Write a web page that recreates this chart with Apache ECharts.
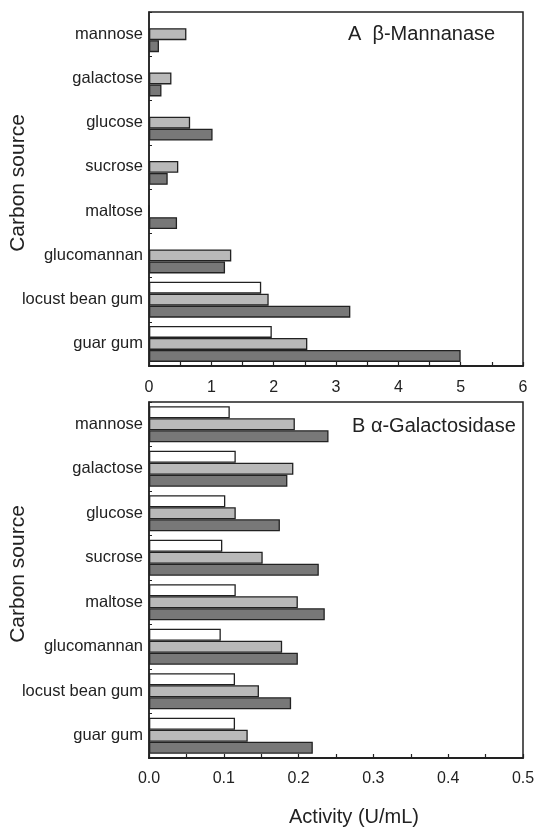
<!DOCTYPE html>
<html>
<head>
<meta charset="utf-8">
<script src="https://cdn.jsdelivr.net/npm/echarts@6/dist/echarts.min.js"></script>
<style>
html,body{margin:0;padding:0;background:#fff;}
#chart{width:537px;height:827px;}
</style>
</head>
<body>
<div id="chart"></div>
<script>
var categories = ['mannose','galactose','glucose','sucrose','maltose','glucomannan','locust bean gum','guar gum'];
// Panel A: beta-Mannanase (U/mL)
var mannWhite = [null, null, null, null, null, null, 1.80, 1.97];
var mannLight = [0.60, 0.36, 0.66, 0.47, 0, 1.32, 1.92, 2.54];
var mannDark  = [0.16, 0.20, 1.02, 0.30, 0.45, 1.22, 3.23, 5.00];
// Panel B: alpha-Galactosidase (U/mL)
var galWhite = [0.108, 0.116, 0.102, 0.098, 0.116, 0.096, 0.115, 0.115];
var galLight = [0.195, 0.193, 0.116, 0.152, 0.199, 0.178, 0.147, 0.132];
var galDark  = [0.240, 0.185, 0.175, 0.227, 0.235, 0.199, 0.190, 0.219];

var titleA = 'A  β-Mannanase';
var titleB = 'B α-Galactosidase';
var yName = 'Carbon source';
var xName = 'Activity (U/mL)';

var FONT = '"Liberation Sans", Arial, sans-serif';
var INK = '#222';
var colors = ['#ffffff', '#b9b9b9', '#787878'];

function yAxisCfg(gi) {
  return {
    type: 'category', gridIndex: gi, data: categories, inverse: true,
    name: yName, nameLocation: 'middle', nameGap: 120, nameRotate: 90, nameMoveOverlap: false,
    nameTextStyle: {fontFamily: FONT, fontSize: 21, color: INK, padding: [0, 0, 0, 12]},
    axisLine: {show: true, lineStyle: {color: INK, width: 1.5}},
    axisTick: {show: true, inside: true, length: 3, lineStyle: {color: INK}},
    axisLabel: {fontFamily: FONT, fontSize: 16.5, color: INK, margin: 6}
  };
}
function xAxisCfg(gi, max, interval, fmt, margin) {
  return {
    type: 'value', gridIndex: gi, min: 0, max: max, interval: interval,
    axisLine: {show: true, onZero: false, lineStyle: {color: INK, width: 2}},
    axisTick: {show: true, inside: true, length: 4, lineStyle: {color: INK, width: 1.2}},
    splitLine: {show: false},
    axisLabel: {fontFamily: FONT, fontSize: 16, color: INK, margin: margin, formatter: fmt, showMaxLabel: true, showMinLabel: true}
  };
}
function barSeries(gi, data, ci) {
  return {
    type: 'bar', xAxisIndex: gi, yAxisIndex: gi, data: data,
    barWidth: 12, barGap: '0%',
    itemStyle: {color: colors[ci], borderColor: INK, borderWidth: 1.3},
    silent: true, animation: false
  };
}

var chart = echarts.init(document.getElementById('chart'), null, {renderer: 'canvas'});
chart.setOption({
  animation: false,
  backgroundColor: '#fff',
  title: [
    {text: titleA, left: 348, top: 24, padding: 0, textStyle: {fontFamily: FONT, fontSize: 20, fontWeight: 'normal', color: INK}},
    {text: titleB, left: 352, top: 416, padding: 0, textStyle: {fontFamily: FONT, fontSize: 20, fontWeight: 'normal', color: INK}}
  ],
  grid: [
    {left: 149, right: 14, top: 12, height: 354, containLabel: false, outerBoundsMode: 'none', show: true, borderColor: INK, borderWidth: 1.5, backgroundColor: 'transparent'},
    {left: 149, right: 14, top: 402, height: 356, containLabel: false, outerBoundsMode: 'none', show: true, borderColor: INK, borderWidth: 1.5, backgroundColor: 'transparent'}
  ],
  xAxis: [
    xAxisCfg(0, 6, 0.5, function (v) { return Math.abs(v - Math.round(v)) < 1e-6 ? String(Math.round(v)) : ''; }, 14),
    xAxisCfg(1, 0.5, 0.05, function (v) { var t = v * 10; return Math.abs(t - Math.round(t)) < 1e-6 ? v.toFixed(1) : ''; }, 13)
  ],
  yAxis: [yAxisCfg(0), yAxisCfg(1)],
  graphic: [
    {type: 'text', left: 289, top: 807, style: {text: xName, font: '20px ' + FONT, fill: INK}}
  ],
  series: [
    barSeries(0, mannWhite, 0), barSeries(0, mannLight, 1), barSeries(0, mannDark, 2),
    barSeries(1, galWhite, 0), barSeries(1, galLight, 1), barSeries(1, galDark, 2)
  ]
});
</script>
</body>
</html>
